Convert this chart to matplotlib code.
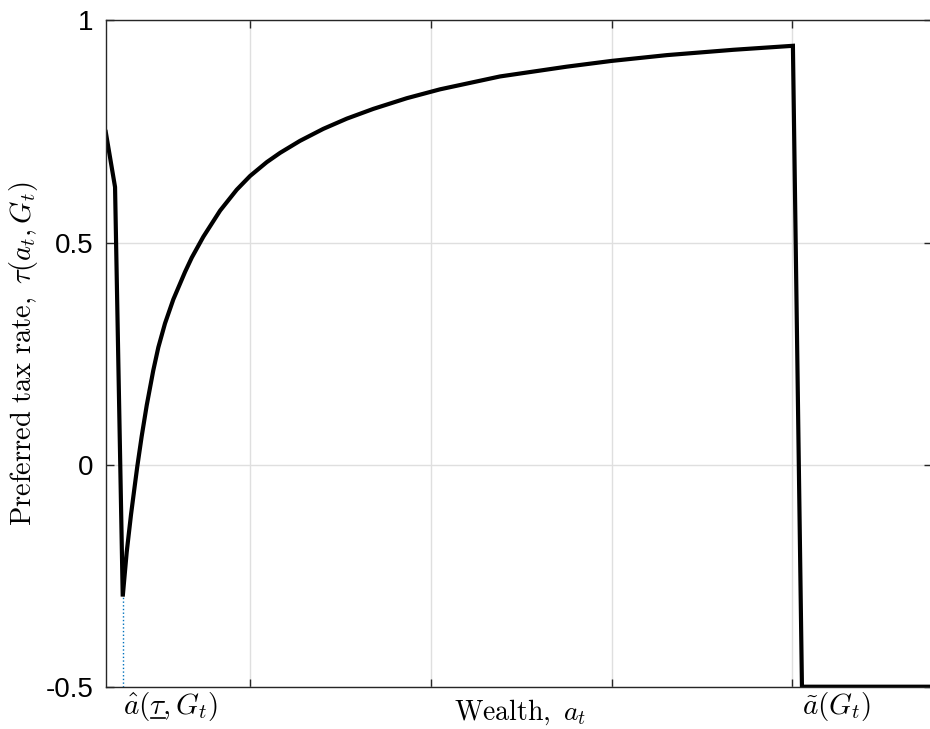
import numpy as np
import matplotlib.pyplot as plt
from matplotlib.lines import Line2D

plt.rcParams['mathtext.fontset'] = 'cm'
plt.rcParams['font.family'] = ['Liberation Sans', 'DejaVu Sans']

wealth = [0.200, 0.2515, 0.294, 0.316, 0.340, 0.362, 0.375, 0.399, 0.427,
          0.463, 0.491, 0.528, 0.574, 0.639, 0.676, 0.740, 0.833, 0.925,
          0.999, 1.091, 1.165, 1.275, 1.404, 1.534, 1.681, 1.866, 2.050,
          2.382, 2.751, 3.000, 3.305, 3.673, 4.003, 4.053, 4.773]
tau = [0.749, 0.625, -0.297, -0.197, -0.112, -0.043, -0.003, 0.064, 0.134,
       0.212, 0.264, 0.318, 0.372, 0.434, 0.466, 0.513, 0.572, 0.619,
       0.650, 0.681, 0.702, 0.729, 0.756, 0.779, 0.801, 0.825, 0.845,
       0.874, 0.896, 0.909, 0.922, 0.934, 0.943, -0.5, -0.5]

a_hat = 0.294      # wealth at minimum preferred rate
tau_min = -0.297
a_tilde = 4.053    # wealth threshold where the rate hits the floor

yticks = [-0.5, 0, 0.5, 1]
ytick_labels = ['-0.5', '0', '0.5', '1']
xticks = [1, 2, 3, 4]

fig = plt.figure(figsize=(9.30, 7.29), dpi=100)
ax = fig.add_axes([0.1137, 0.058, 0.8885, 0.9139])

ax.plot([a_hat, a_hat], [-0.5, tau_min], ':', color=(0, 0.447, 0.741), lw=1)
ax.plot(wealth, tau, '-', color='k', lw=3, solid_joinstyle='miter')

ax.set_xlim(0.2, 4.773)
ax.set_ylim(-0.5, 1)
ax.set_xticks(xticks)
ax.set_xticklabels([])
ax.set_yticks(yticks)
ax.set_yticklabels(ytick_labels, fontsize=20)
ax.tick_params(direction='in', length=6, width=1, color='#262626',
               top=True, right=True, pad=9)
for s in ax.spines.values():
    s.set_color('#262626')
    s.set_linewidth(1)
ax.grid(True, color='#dfdfdf', lw=1)
ax.set_axisbelow(True)

ax.set_ylabel(r'$\mathrm{Preferred\ tax\ rate,}\ \tau(a_t,G_t)$', fontsize=20.5, labelpad=4)
ax.set_xlabel(r'$\mathrm{Wealth,}\ a_t$', fontsize=20)
ax.xaxis.set_label_coords(0.502, -0.05)
ax.xaxis.label.set_va('baseline')

y_lbl = -0.5615
lbl_kw = dict(fontsize=21, ha='left', va='baseline')
ax.text(a_hat, y_lbl, r'$\hat{a}(\tau,G_t)$', **lbl_kw)
ax.text(a_tilde, y_lbl, r'$\tilde{a}(G_t)$', **lbl_kw)

# underline the tau (mathtext has no \underline): measure where it sits
fig.canvas.draw()
r = fig.canvas.get_renderer()
pre = ax.text(a_hat, y_lbl, r'$\hat{a}($', **lbl_kw)
upto = ax.text(a_hat, y_lbl, r'$\hat{a}(\tau$', **lbl_kw)
x0 = pre.get_window_extent(r).x1
x1 = upto.get_window_extent(r).x1
pre.remove()
upto.remove()
y_base = ax.transData.transform((a_hat, y_lbl))[1]
inv = fig.transFigure.inverted()
(fx0, fy), (fx1, _) = inv.transform([(x0 + 1, y_base - 4), (x1 - 1, y_base - 4)])
fig.add_artist(Line2D([fx0, fx1], [fy, fy], color='k', lw=1.2))

fig.savefig('out.png', dpi=100)
